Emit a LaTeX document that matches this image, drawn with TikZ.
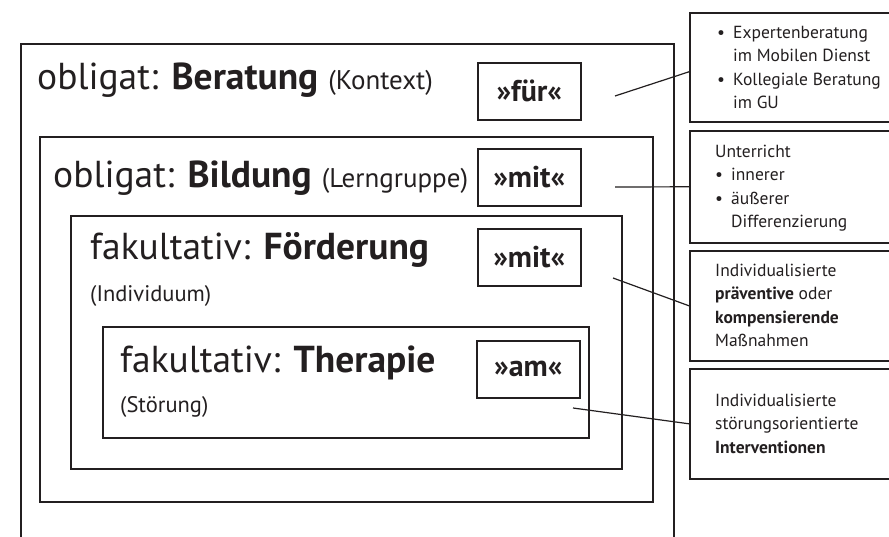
\documentclass[tikz,border=0pt]{standalone}
\usepackage{fontspec}
\setmainfont{PT Sans}
\usetikzlibrary{positioning}
\definecolor{InkGray}{RGB}{35,31,32}
\tikzset{
  ringbox/.style={draw=InkGray,line width=1.6pt,inner sep=0pt,anchor=north west},
  prepbox/.style={draw=InkGray,line width=1.6pt,minimum width=103pt,minimum height=57pt,
    inner sep=0pt,anchor=north west,text=InkGray,font=\fontsize{30}{32}\selectfont\bfseries},
  notebox/.style={draw=InkGray,line width=1.6pt,minimum width=220pt,inner sep=0pt,anchor=north west},
  notetext/.style={anchor=north west,inner sep=0pt,align=left,text=InkGray,
    font=\fontsize{17.5}{23.3}\selectfont},
  titletext/.style={anchor=base west,inner sep=0pt,text=InkGray,font=\fontsize{37.5}{40}\selectfont},
  subtext/.style={anchor=base west,inner sep=0pt,text=InkGray,font=\fontsize{22.5}{26}\selectfont},
  linkline/.style={draw=InkGray,line width=1.2pt},
}
\newcommand{\bul}{\makebox[16pt][l]{\textbullet}}
\newcommand{\hang}{\hspace*{16pt}}
\newcommand{\ctxsize}{\fontsize{27}{30}\selectfont}

\begin{document}
\begin{tikzpicture}[x=1pt,y=-1pt]
\path[use as bounding box,fill=white] (0,0) rectangle (889,537);
\clip (0,0) rectangle (889,537);
% nested levels
\node[ringbox,minimum width=653pt,minimum height=517pt] (kontext) at (20,43) {};
\node[ringbox,minimum width=613pt,minimum height=365pt] (lerngruppe) at (39,136) {};
\node[ringbox,minimum width=551pt,minimum height=253pt] (individuum) at (70,215) {};
\node[ringbox,minimum width=486pt,minimum height=111pt] (stoerung) at (102,326) {};
\node[titletext] (beratung) at (37,90) {obligat: \textbf{Beratung} {\ctxsize(Kontext)}};
\node[titletext] (bildung) at (53,188) {obligat: \textbf{Bildung} {\ctxsize(Lerngruppe)}};
\node[titletext] (foerderung) at (90,260) {fakultativ: \textbf{Förderung}};
\node[subtext] (foerderungsub) at (90,302) {(Individuum)};
\node[titletext] (therapie) at (120,373) {fakultativ: \textbf{Therapie}};
\node[subtext] (therapiesub) at (120,412) {(Störung)};
\node[prepbox] (fuer) at (477,62) {»für«};
\node[prepbox] (mitA) at (477,148) {»mit«};
\node[prepbox] (mitB) at (477,228) {»mit«};
\node[prepbox] (am) at (476,340) {»am«};
% notes on the right
\node[notebox,minimum height=109pt] (noteA) at (689,12) {};
\node[notebox,minimum height=112pt] (noteB) at (689,130) {};
\node[notebox,minimum height=110pt] (noteC) at (689,250) {};
\node[notebox,minimum height=110pt] (noteD) at (689,368) {};
\node[notetext] (textA) at (717,26) {\bul Expertenberatung\\\hang im Mobilen Dienst\\\bul Kollegiale Beratung\\\hang im GU};
\node[notetext] (textB) at (715,145) {Unterricht\\\bul innerer\\\bul äußerer\\\hang Differenzierung};
\node[notetext] (textC) at (715,264) {Individualisierte\\\textbf{präventive} oder\\\textbf{kompensierende}\\Maßnahmen};
\node[notetext] (textD) at (715,394) {Individualisierte\\störungsorientierte\\\textbf{Interventionen}};
\coordinate (fuerlink) at (615,96);
\coordinate (mitAlink) at (615,187);
\coordinate (mitBlink) at (613,278);
\coordinate (amlink) at (573,408);
\draw[linkline] (fuerlink) -- ([yshift=-4.5pt]noteA.west);
\draw[linkline] (mitAlink) -- (noteB.west);
\draw[linkline] (mitBlink) -- (noteC.west);
\draw[linkline] (amlink) -- (noteD.west);
\end{tikzpicture}
\end{document}
